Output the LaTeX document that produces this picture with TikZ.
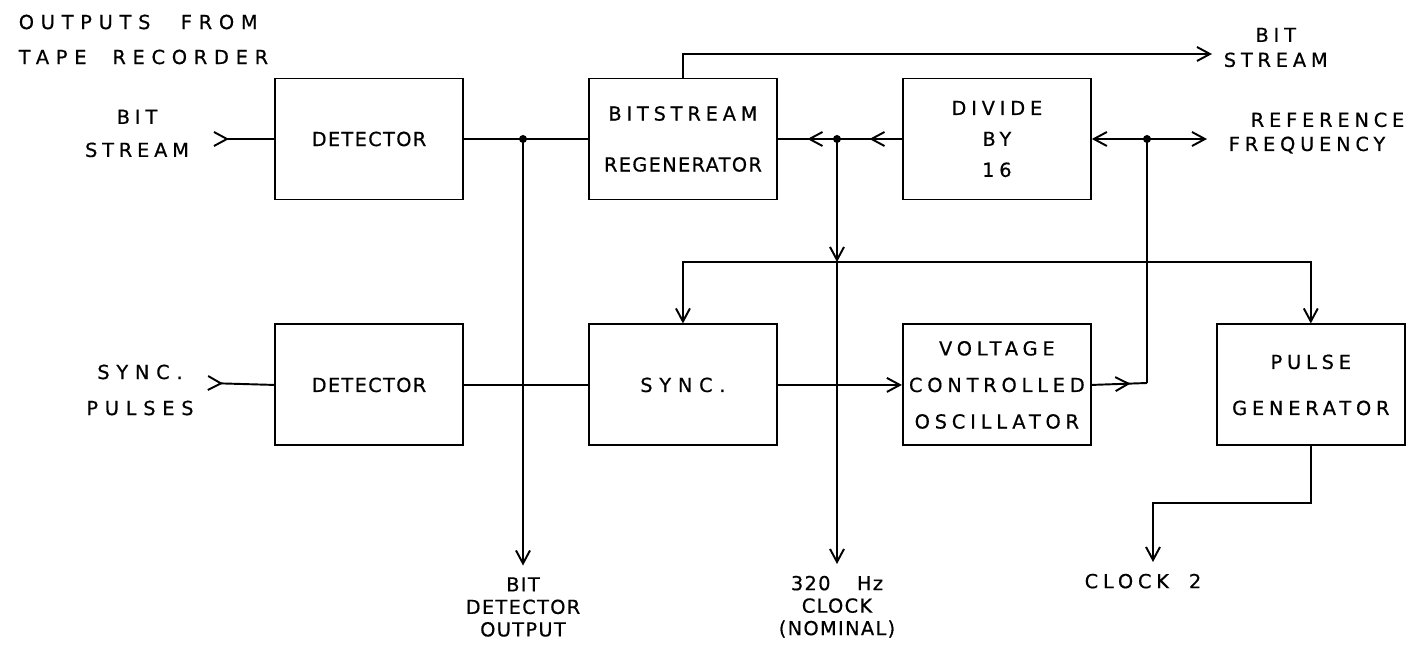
\documentclass[tikz,border=0pt]{standalone}
\usepackage{fontspec}
\setmainfont{DejaVu Sans}
\newfontfamily\tightlbl[LetterSpace=7,FakeBold=0.6]{DejaVu Sans}
\newfontfamily\widelbl[LetterSpace=25,FakeBold=0.6]{DejaVu Sans}
\newfontfamily\widerlbl[LetterSpace=35,FakeBold=0.6]{DejaVu Sans}
\usetikzlibrary{positioning,arrows.meta,decorations.markings}

\begin{document}
\begin{tikzpicture}[line width=1.1pt, >={Straight Barb[length=2.6mm,width=2.8mm]},
  node distance=2.46cm and 2.48cm,
  blk/.style={draw, minimum width=3.76cm, minimum height=2.42cm, align=center, inner sep=0pt},
  tight/.style={font=\fontsize{11}{13.5}\selectfont\tightlbl},
  wide/.style={font=\fontsize{11}{13.5}\selectfont\widelbl},
  wider/.style={font=\fontsize{11}{13.5}\selectfont\widerlbl},
  midtip/.style={postaction={decorate,decoration={markings,mark=at position #1 with {\arrow{>}}}}},
  midtip/.default=0.5]
  \useasboundingbox (0,0) rectangle (28.5,12.96);
  % top row
  \node[blk, tight] (det1) at (7.38,10.18) {DETECTOR};
  \node[blk, wide, right=of det1] (regen) {BITSTREAM\\[15.5pt]{\tightlbl REGENERATOR}};
  \node[blk, wide, right=of regen] (div) {DIVIDE\\[4.1pt]BY\\[4.1pt]16};
  % bottom row
  \node[blk, tight, below=of det1] (det2) {DETECTOR};
  \node[blk, wider, right=of det2] (sync) {SYNC.};
  \node[blk, wide, right=of sync] (vco) {VOLTAGE\\[7.3pt]CONTROLLED\\[7.3pt]OSCILLATOR};
  \node[blk, wide, right=of vco] (pulse) {PULSE\\[12.7pt]GENERATOR};
  % junctions and free ends
  \coordinate (in1) at (4.26,10.18);
  \coordinate (in2) at (4.14,5.30);
  \coordinate (j1) at (10.46,10.18);
  \coordinate (j2) at (16.74,10.18);
  \coordinate (j3) at (16.74,7.72);
  \coordinate (j4) at (22.94,10.18);
  \coordinate (j5) at (22.94,5.30);
  \coordinate (refout) at (24.14,10.18);
  \coordinate (bsout) at (24.24,11.88);
  \coordinate (bitout) at (10.46,1.65);
  \coordinate (clkout) at (16.74,1.68);
  \coordinate (kink) at (23.06,2.9);
  \coordinate (clk2) at (23.06,1.72);
  % wires
  \draw[>-] (in1) -- (det1.west);
  \draw (det1.east) -- (regen.west);
  \draw[->] (j1) -- (bitout);
  \draw[->] (regen.north) |- (bsout);
  \draw[midtip] (div.west) -- (j2);
  \draw[midtip] (j2) -- (regen.east);
  \draw[->] (j2) -- (j3);
  \draw[->] (j3) -- (clkout);
  \draw[->] (j3) -| (sync.north);
  \draw[->] (j3) -| (pulse.north);
  \draw[->] (j4) -- (div.east);
  \draw[->] (j4) -- (refout);
  \draw (j4) -- (j5);
  \draw[>-] (in2) -- (det2.west);
  \draw (det2.east) -- (sync.west);
  \draw[->] (sync.east) -- (vco.west);
  \draw[midtip=0.7] (vco.east) -- (j5);
  \draw[->] (pulse.south) |- (kink) -- (clk2);
  \foreach \j in {j1,j2,j4} \fill (\j) circle (0.08);
  % labels
  \node[wider, align=left, anchor=west] (title) at (0.24,12.17) {OUTPUTS\hspace{3.5mm} FROM\\[6.4pt]TAPE\hspace{2.6mm} RECORDER};
  \node[wide, align=center] (bsin) at (2.74,10.29) {BIT\\[5.3pt]STREAM};
  \node[wider, align=center] (syncin) at (2.8,5.16) {SYNC.\\[7pt]PULSES};
  \node[wide, align=center, anchor=west] (bslbl) at (24.34,12.01) {BIT\\[0.7pt]STREAM};
  \node[wide, align=left, anchor=west] (reflbl) at (24.44,10.3) {\hspace*{0.44cm}REFERENCE\\[0.2pt]FREQUENCY};
  \node[tight, align=center, below=0.1cm of bitout] (bitlbl) {BIT\\[-0.7pt]DETECTOR\\[-0.7pt]OUTPUT};
  \node[tight, align=center, below=0.1cm of clkout] (clklbl) {320\hspace{3.8mm} Hz\\[-0.7pt]CLOCK\\[-0.7pt](NOMINAL)};
  \node[wide, below=0.1cm of clk2, xshift=-0.2cm] (clk2lbl) {CLOCK\hspace{1.8mm} 2};
\end{tikzpicture}
\end{document}
